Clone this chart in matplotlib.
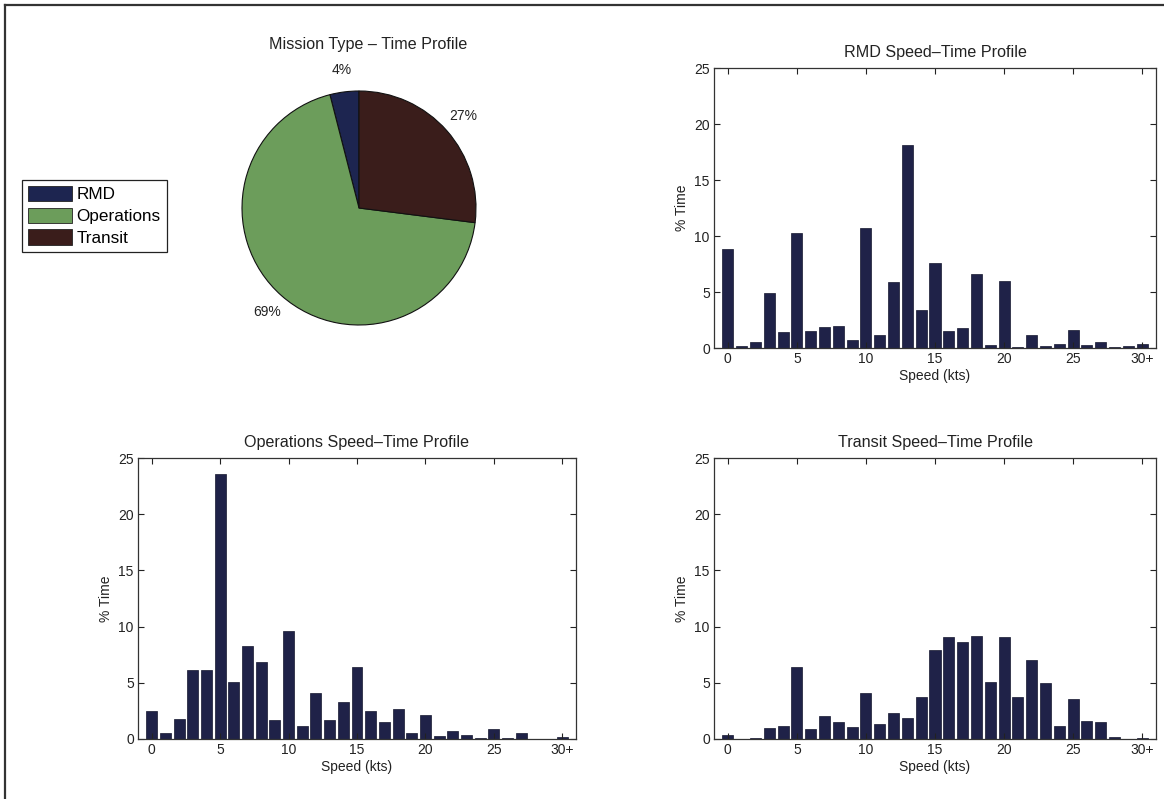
import matplotlib
matplotlib.use("Agg")
import matplotlib.pyplot as plt
from matplotlib.patches import Patch
from matplotlib.lines import Line2D
import numpy as np

plt.rcParams['font.family'] = ['Liberation Sans', 'DejaVu Sans']

# ---- data ----
mission_types = ["RMD", "Operations", "Transit"]
mission_share = [4, 69, 27]
mission_colors = ["#1d2550", "#6c9d5b", "#3a1d1b"]

speeds = list(range(31))
speed_tick_values = [0, 5, 10, 15, 20, 25, 30]
speed_tick_labels = ["0", "5", "10", "15", "20", "25", "30+"]

rmd_time = [8.8, 0.15, 0.5, 4.9, 1.4, 10.3, 1.5, 1.9, 1.95, 0.7,
            10.7, 1.13, 5.9, 18.1, 3.4, 7.6, 1.5, 1.8, 6.6, 0.3,
            6.0, 0.1, 1.15, 0.15, 0.35, 1.65, 0.3, 0.5, 0.1, 0.2, 0.4]
operations_time = [2.5, 0.5, 1.8, 6.1, 6.15, 23.6, 5.05, 8.3, 6.85, 1.65,
                   9.65, 1.2, 4.05, 1.65, 3.25, 6.45, 2.45, 1.5, 2.65, 0.5,
                   2.15, 0.3, 0.7, 0.4, 0.12, 0.85, 0.12, 0.5, 0.03, 0.03, 0.2]
transit_time = [0.35, 0.03, 0.1, 1.0, 1.15, 6.4, 0.85, 2.05, 1.55, 1.05,
                4.05, 1.35, 2.3, 1.9, 3.75, 7.9, 9.1, 8.6, 9.2, 5.1,
                9.05, 3.7, 7.05, 5.0, 1.15, 3.6, 1.6, 1.55, 0.2, 0.0, 0.12]

bar_color = "#1f2248"
text_color = "#222222"

W, H = 1164, 799
fig = plt.figure(figsize=(W / 100, H / 100), dpi=100)


def rect(left, top, right, bottom):
    return [left / W, 1 - bottom / H, (right - left) / W, (bottom - top) / H]


# figure frame lines (top and left)
fig.add_artist(Line2D([5 / W, 1.0], [1 - 5 / H, 1 - 5 / H], color="#333333", lw=1.6,
                      transform=fig.transFigure))
fig.add_artist(Line2D([5 / W, 5 / W], [0.0, 1 - 5 / H], color="#333333", lw=1.6,
                      transform=fig.transFigure))

# ---- pie ----
axp = fig.add_axes(rect(359 - 117, 208 - 117, 359 + 117, 208 + 117))
wedges, texts, autotexts = axp.pie(
    mission_share, colors=mission_colors, startangle=90, counterclock=True,
    autopct=lambda p: f"{p:.0f}%", pctdistance=1.19, radius=1.0,
    wedgeprops=dict(edgecolor="#111111", linewidth=0.8),
    textprops=dict(fontsize=10, color=text_color))
axp.set_xlim(-1.0, 1.0)
axp.set_ylim(-1.0, 1.0)
axp.set_aspect("equal")
fig.text(368 / W, 1 - 45 / H, "Mission Type – Time Profile", ha="center", va="center",
         fontsize=11.6, color=text_color)

handles = [Patch(facecolor=c, edgecolor="#222222", linewidth=0.6) for c in mission_colors]
leg = fig.legend(handles, mission_types, loc="upper left",
                 bbox_to_anchor=(22 / W, 1 - 180 / H), fontsize=12.3,
                 handlelength=2.6, handleheight=1.0, labelspacing=0.3,
                 handletextpad=0.25, borderpad=0.35, borderaxespad=0.0,
                 fancybox=False, framealpha=1.0, edgecolor="#222222")
leg.get_frame().set_linewidth(0.9)


def speed_panel(ax, values, title):
    ax.bar(speeds, values, width=0.8, color=bar_color, edgecolor="#14162e", linewidth=0.5)
    ax.set_xlim(-1, 31)
    ax.set_ylim(0, 25)
    ax.set_xticks(speed_tick_values)
    ax.set_xticklabels(speed_tick_labels)
    ax.set_yticks([0, 5, 10, 15, 20, 25])
    ax.tick_params(direction="in", length=4, width=0.8, top=True, right=True,
                   labelsize=10, colors=text_color, pad=3)
    for s in ax.spines.values():
        s.set_linewidth(0.9)
        s.set_color("#333333")
    ax.set_title(title, fontsize=11.6, pad=8, color=text_color)
    ax.set_xlabel("Speed (kts)", fontsize=10, labelpad=2, color=text_color)
    ax.set_ylabel("% Time", fontsize=10, labelpad=4, color=text_color)


ax_rmd = fig.add_axes(rect(714, 68, 1156, 348))
speed_panel(ax_rmd, rmd_time, "RMD Speed–Time Profile")

ax_ops = fig.add_axes(rect(138, 458, 576, 739))
speed_panel(ax_ops, operations_time, "Operations Speed–Time Profile")

ax_tr = fig.add_axes(rect(714, 458, 1156, 739))
speed_panel(ax_tr, transit_time, "Transit Speed–Time Profile")

fig.savefig("out.png", dpi=100)
